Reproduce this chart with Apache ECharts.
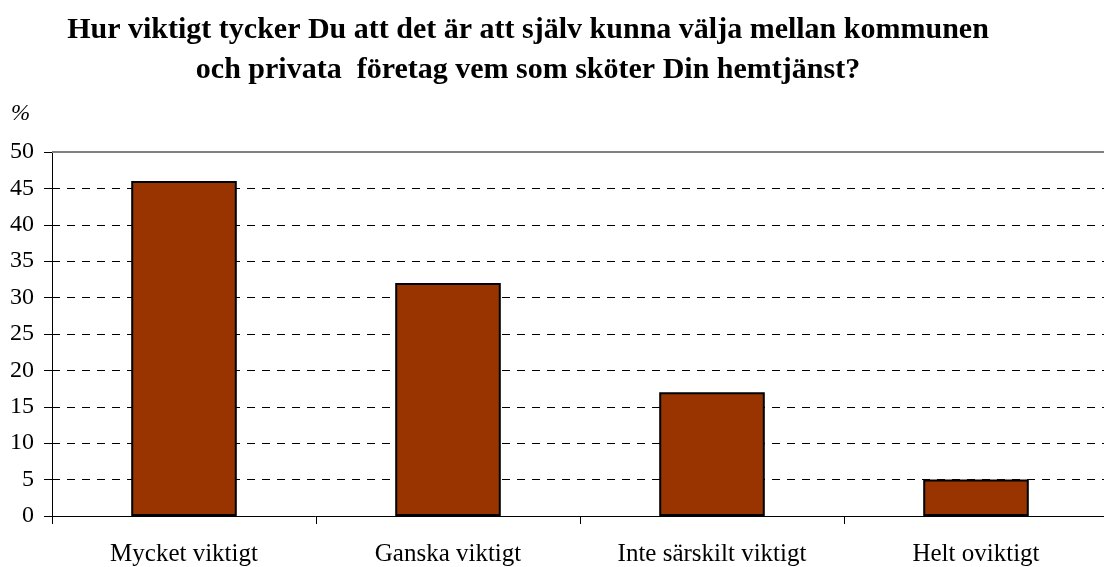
<!DOCTYPE html>
<html>
<head>
<meta charset="utf-8">
<script src="https://cdn.jsdelivr.net/npm/echarts@6/dist/echarts.min.js"></script>
<style>
  html, body { margin: 0; padding: 0; background: #ffffff; overflow: hidden; }
  /* the plot area continues a few pixels past the visible right edge */
  #chart { width: 1112px; height: 567px; }
</style>
</head>
<body>
<div id="chart"></div>
<script>
// Survey answers: share of respondents (%) per level of importance
const categories = ['Mycket viktigt', 'Ganska viktigt', 'Inte särskilt viktigt', 'Helt oviktigt'];
const percentValues = [46, 32, 17, 5];
const yTicks = { min: 0, max: 50, interval: 5 };

const titleLines = [
  'Hur viktigt tycker Du att det är att själv kunna välja mellan kommunen',
  'och privata  företag vem som sköter Din hemtjänst?'
];

const serif = '"Liberation Serif", "DejaVu Serif", serif';

const chart = echarts.init(document.getElementById('chart'), null, { renderer: 'canvas' });

chart.setOption({
  animation: false,
  backgroundColor: '#ffffff',
  title: {
    text: titleLines.join('\n'),
    left: 528,
    top: 10,
    padding: 0,
    textAlign: 'center',
    textStyle: {
      fontFamily: serif,
      fontSize: 30,
      fontWeight: 'bold',
      color: '#000000',
      lineHeight: 40
    }
  },
  graphic: [{
    type: 'text',
    left: 11,
    top: 102,
    style: {
      text: '%',
      font: 'italic 23px ' + serif,
      fill: '#000000'
    }
  }],
  grid: {
    left: 52,
    right: 4,
    top: 152,
    bottom: 49,
    containLabel: false
  },
  xAxis: {
    type: 'category',
    data: categories,
    boundaryGap: true,
    axisLine: { show: true, lineStyle: { color: '#000000', width: 1 } },
    axisTick: { show: true, length: 8, lineStyle: { color: '#000000' } },
    axisLabel: {
      margin: 26,
      fontFamily: serif,
      fontSize: 25,
      color: '#000000'
    },
    splitLine: { show: false }
  },
  yAxis: {
    type: 'value',
    min: yTicks.min,
    max: yTicks.max,
    interval: yTicks.interval,
    axisLine: { show: true, lineStyle: { color: '#000000', width: 1 } },
    axisTick: { show: true, length: 8, lineStyle: { color: '#000000' } },
    axisLabel: {
      margin: 18,
      fontFamily: serif,
      fontSize: 24,
      color: '#000000'
    },
    splitLine: {
      show: true,
      lineStyle: { color: '#000000', type: [8, 7], width: 1 }
    }
  },
  series: [{
    type: 'bar',
    data: percentValues,
    barWidth: '40%',
    itemStyle: {
      color: '#993300',
      borderColor: '#000000',
      borderWidth: 2
    },
    markLine: {
      silent: true,
      symbol: 'none',
      label: { show: false },
      lineStyle: { color: '#808080', type: 'solid', width: 2 },
      data: [{ yAxis: yTicks.max }]
    }
  }]
});
</script>
</body>
</html>
